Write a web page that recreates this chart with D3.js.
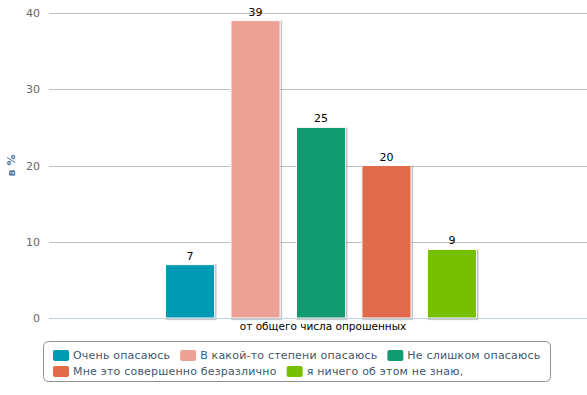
<!DOCTYPE html>
<html>
<head>
<meta charset="utf-8">
<script src="https://cdn.jsdelivr.net/npm/d3@7"></script>
<style>
  body { margin: 0; background: #fff; }
  svg { display: block; font-family: "DejaVu Sans", Verdana, sans-serif; }
</style>
</head>
<body>
<svg id="chart" width="587" height="395"></svg>
<script>
const categories = ['от общего числа опрошенных'];
const seriesNames = [
  'Очень опасаюсь',
  'В какой-то степени опасаюсь',
  'Не слишком опасаюсь',
  'Мне это совершенно безразлично',
  'я ничего об этом не знаю,'
];
const seriesValues = [7, 39, 25, 20, 9];
const seriesColors = ['#0099b4', '#eda095', '#129a71', '#e06b4a', '#77c000'];
const yTicks = [0, 10, 20, 30, 40];

const width = 587;
const height = 395;
const margin = { top: 13, right: -6, bottom: 77, left: 49 };

const svg = d3.select('#chart');

const y = d3.scaleLinear()
  .domain([0, 40])
  .range([height - margin.bottom, margin.top]);

const x0 = d3.scaleBand()
  .domain(categories)
  .range([margin.left, width - margin.right]);

const x1 = d3.scaleBand()
  .domain(d3.range(seriesValues.length))
  .range([0, x0.bandwidth()])
  .paddingInner(0.25)
  .paddingOuter(1.78);

// grid lines
svg.append('g')
  .selectAll('line')
  .data(yTicks.filter((d) => d > 0))
  .enter()
  .append('line')
  .attr('x1', margin.left)
  .attr('x2', width)
  .attr('y1', (d) => Math.round(y(d)) + 0.5)
  .attr('y2', (d) => Math.round(y(d)) + 0.5)
  .attr('stroke', '#c0c0c0')
  .attr('stroke-width', 1);

// y tick labels
svg.append('g')
  .selectAll('text')
  .data(yTicks)
  .enter()
  .append('text')
  .attr('x', 40)
  .attr('y', (d) => y(d) + 4)
  .attr('text-anchor', 'end')
  .style('font-size', '11px')
  .style('fill', '#666')
  .text((d) => d);

// y axis title
svg.append('text')
  .attr('transform', `translate(15, ${y(20)}) rotate(-90)`)
  .attr('text-anchor', 'middle')
  .style('font-size', '11px')
  .style('font-weight', 'bold')
  .style('fill', '#4d759e')
  .text('в %');

// bars
const group = svg.append('g')
  .selectAll('g')
  .data(categories)
  .enter()
  .append('g')
  .attr('transform', (d) => `translate(${x0(d)},0)`);

const bars = group.selectAll('g.bar')
  .data(seriesValues.map((v, i) => ({ v, i })))
  .enter()
  .append('g')
  .attr('class', 'bar');

// soft shadow
[3, 2, 1].forEach((w, k) => {
  bars.append('rect')
    .attr('x', (d) => x1(d.i) + 1)
    .attr('y', (d) => y(d.v) + 1)
    .attr('width', x1.bandwidth())
    .attr('height', (d) => y(0) - y(d.v))
    .attr('fill', 'none')
    .attr('stroke', '#000')
    .attr('stroke-opacity', 0.05 * (k + 1))
    .attr('stroke-width', w);
});

bars.append('rect')
  .attr('x', (d) => x1(d.i))
  .attr('y', (d) => y(d.v))
  .attr('width', x1.bandwidth())
  .attr('height', (d) => y(0) - y(d.v))
  .attr('fill', (d) => seriesColors[d.i])
  .attr('stroke', '#fff')
  .attr('stroke-width', 1);

bars.append('text')
  .attr('x', (d) => x1(d.i) + x1.bandwidth() / 2)
  .attr('y', (d) => y(d.v) - 5)
  .attr('text-anchor', 'middle')
  .style('font-size', '11px')
  .style('fill', '#000')
  .text((d) => d.v);

// x axis line
svg.append('line')
  .attr('x1', margin.left)
  .attr('x2', width)
  .attr('y1', Math.round(y(0)) + 0.5)
  .attr('y2', Math.round(y(0)) + 0.5)
  .attr('stroke', '#c0d0e0');

// category label
svg.append('g')
  .selectAll('text')
  .data(categories)
  .enter()
  .append('text')
  .attr('x', 323)
  .attr('y', y(0) + 12)
  .attr('text-anchor', 'middle')
  .style('font-size', '10.5px')
  .style('fill', '#000')
  .text((d) => d);

// legend
const legend = svg.append('g');
legend.append('rect')
  .attr('x', 43.5)
  .attr('y', 341.5)
  .attr('width', 507)
  .attr('height', 40)
  .attr('rx', 5)
  .attr('fill', '#fff')
  .attr('stroke', '#909090');

const rowWidth = 495;
let lx = 0;
let row = 0;
seriesNames.forEach((name, i) => {
  const item = legend.append('g');
  const label = item.append('text')
    .attr('x', 20)
    .attr('y', 4)
    .style('font-size', '11px')
    .style('letter-spacing', '0.2px')
    .style('fill', '#3e576f')
    .text(name);
  const w = 20 + label.node().getComputedTextLength();
  if (lx > 0 && lx + w > rowWidth) {
    lx = 0;
    row += 1;
  }
  item.append('rect')
    .attr('x', 0)
    .attr('y', -5)
    .attr('width', 16)
    .attr('height', 11)
    .attr('rx', 2)
    .attr('fill', seriesColors[i]);
  item.attr('transform', `translate(${53 + lx}, ${355 + row * 16})`);
  lx += w + 10;
});
</script>
</body>
</html>
